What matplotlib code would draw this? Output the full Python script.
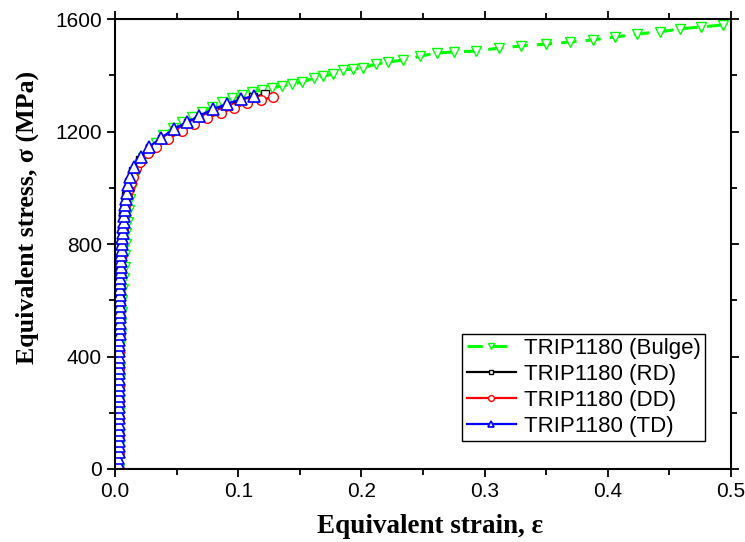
import matplotlib
matplotlib.use("Agg")
import matplotlib.pyplot as plt
from matplotlib.ticker import MultipleLocator

# --- data (strain, stress in MPa) ---
# TD: dense elastic part, then the hardening curve
td_strain = [0.0027, 0.0028, 0.0028, 0.0029, 0.0029, 0.0030, 0.0030, 0.0031, 0.0031, 0.0031,
             0.0032, 0.0032, 0.0033, 0.0033, 0.0033, 0.0034, 0.0034, 0.0034, 0.0035, 0.0035,
             0.0035, 0.0036, 0.0036, 0.0036, 0.0037, 0.0037, 0.0038, 0.0038, 0.0039, 0.0039,
             0.0040, 0.0041, 0.0042, 0.0043, 0.0044, 0.0046, 0.0047, 0.0049, 0.0051, 0.0053,
             0.0056, 0.0059, 0.0062, 0.0066, 0.0070, 0.0074, 0.0079, 0.0085, 0.0091,
             0.0097, 0.0106, 0.0122, 0.0154, 0.0211, 0.0276, 0.0373, 0.0479, 0.0584, 0.0682,
             0.0795, 0.0909, 0.1023, 0.1128]
td_stress = [0, 20, 40, 60, 80, 100, 120, 140, 160, 180,
             200, 220, 240, 260, 280, 300, 320, 340, 360, 380,
             400, 420, 440, 460, 480, 500, 520, 540, 560, 580,
             600, 620, 640, 660, 680, 700, 720, 740, 760, 780,
             800, 820, 840, 860, 880, 900, 920, 940, 960,
             981, 1010, 1038, 1074, 1109, 1145, 1177, 1209, 1234, 1255,
             1280, 1298, 1316, 1326]

rd_strain = [0.0028, 0.0029, 0.0030, 0.0031, 0.0032, 0.0033, 0.0034, 0.0035, 0.0036, 0.0037,
             0.0039, 0.0041, 0.0044, 0.0048, 0.0053, 0.0060, 0.0068, 0.0078, 0.0090,
             0.0100, 0.0115, 0.0145, 0.0205, 0.0280, 0.0380, 0.0485, 0.0590, 0.0695,
             0.0805, 0.0915, 0.1025, 0.1120, 0.1218]
rd_stress = [0, 60, 120, 180, 240, 300, 360, 420, 480, 540,
             600, 650, 700, 750, 800, 850, 900, 940, 970,
             985, 1020, 1060, 1100, 1140, 1175, 1205, 1230, 1252,
             1273, 1292, 1310, 1322, 1333]

dd_strain = [0.0029, 0.0030, 0.0031, 0.0032, 0.0033, 0.0034, 0.0035, 0.0036, 0.0037, 0.0038,
             0.0040, 0.0043, 0.0046, 0.0051, 0.0057, 0.0064, 0.0073, 0.0083, 0.0095,
             0.0110, 0.0130, 0.0146, 0.0170, 0.0203, 0.0268, 0.0333, 0.0430, 0.0544,
             0.0641, 0.0747, 0.0860, 0.0966, 0.1071, 0.1185, 0.1282]
dd_stress = [0, 60, 120, 180, 240, 300, 360, 420, 480, 540,
             600, 650, 700, 750, 800, 850, 900, 940, 970,
             995, 1017, 1038, 1070, 1092, 1124, 1145, 1173, 1202,
             1227, 1248, 1266, 1284, 1302, 1312, 1323]

bulge_strain = [0.0030, 0.0031, 0.0032, 0.0033, 0.0034, 0.0035, 0.0036, 0.0037, 0.0038, 0.0040,
                0.0042, 0.0044, 0.0047, 0.0050, 0.0055, 0.0060, 0.0067, 0.0073, 0.0077, 0.0081,
                0.0086, 0.0090, 0.0102, 0.0112, 0.0124, 0.0138, 0.0158, 0.0180, 0.0205, 0.0230,
                0.0280, 0.0335, 0.0390, 0.0471, 0.0544, 0.0625, 0.0706, 0.0787, 0.0869, 0.0950,
                0.1031, 0.1112, 0.1193, 0.1274, 0.1356, 0.1437, 0.1518, 0.1615, 0.1690, 0.1770,
                0.1850, 0.1930, 0.2010, 0.2120, 0.2216, 0.2340, 0.2476, 0.2610, 0.2750, 0.2930,
                0.3120, 0.3295, 0.3500, 0.3690, 0.3880, 0.4060, 0.4240, 0.4420, 0.4586, 0.4760,
                0.4935]
bulge_stress = [0, 40, 80, 120, 160, 200, 240, 280, 320, 360,
                400, 440, 480, 520, 560, 600, 640, 680, 720, 760,
                800, 840, 880, 920, 960, 1000, 1035, 1063, 1085, 1105,
                1135, 1160, 1188, 1213, 1234, 1252, 1270, 1287, 1305, 1319,
                1330, 1341, 1348, 1355, 1362, 1369, 1376, 1390, 1397, 1404,
                1419, 1422, 1426, 1440, 1447, 1454, 1468, 1479, 1483, 1486,
                1497, 1504, 1511, 1518, 1526, 1536, 1547, 1554, 1565, 1572,
                1579]

labels = ["TRIP1180 (Bulge)", "TRIP1180 (RD)", "TRIP1180 (DD)", "TRIP1180 (TD)"]

fig = plt.figure(figsize=(7.45, 5.42), dpi=100)
ax = fig.add_axes([0.1544, 0.1347, 0.8268, 0.8302])

ax.plot(bulge_strain, bulge_stress, color="#00ff00", ls=(0, (5, 3)), lw=2.2,
        marker="v", ms=7.5, mfc="white", mec="#00ff00", mew=1.0, label=labels[0])
ax.plot(rd_strain, rd_stress, color="black", lw=1.6,
        marker="s", ms=6, mfc="white", mec="black", mew=1.0, label=labels[1])
ax.plot(dd_strain, dd_stress, color="red", lw=1.6,
        marker="o", ms=7, mfc="white", mec="red", mew=1.0, label=labels[2])
ax.plot(td_strain, td_stress, color="blue", lw=1.6,
        marker="^", ms=8, mfc="white", mec="blue", mew=1.2, label=labels[3])

ax.set_xlim(0, 0.5)
ax.set_ylim(0, 1600)
ax.xaxis.set_major_locator(MultipleLocator(0.1))
ax.xaxis.set_minor_locator(MultipleLocator(0.05))
ax.yaxis.set_major_locator(MultipleLocator(400))
ax.yaxis.set_minor_locator(MultipleLocator(200))
ax.set_xticklabels([f"{v:.1f}" for v in ax.get_xticks()])

ax.tick_params(which="both", direction="out", width=1.3, top=True, right=True,
               labeltop=False, labelright=False)
ax.tick_params(which="major", length=6)
ax.tick_params(which="minor", length=4)
for lbl in ax.get_xticklabels() + ax.get_yticklabels():
    lbl.set_family("Liberation Sans")
    lbl.set_fontsize(15)
for sp in ax.spines.values():
    sp.set_linewidth(1.5)

ax.set_xlabel("Equivalent strain, ε", family="Liberation Serif", fontweight="bold",
              fontsize=19.5)
ax.set_ylabel("Equivalent stress, σ (MPa)", family="Liberation Serif", fontweight="bold",
              fontsize=18.6)
ax.xaxis.set_label_coords(0.512, -0.101)
ax.yaxis.set_label_coords(-0.124, 0.56)

leg = ax.legend(loc="lower right", bbox_to_anchor=(0.958, 0.062), fancybox=False,
                edgecolor="black", framealpha=1, markerscale=0.6, handlelength=2.2,
                borderpad=0.2, labelspacing=0.22, handletextpad=0.36, borderaxespad=0,
                prop={"family": "Liberation Sans", "size": 16})
leg.get_frame().set_linewidth(1.0)

fig.savefig("out.png", dpi=100)
